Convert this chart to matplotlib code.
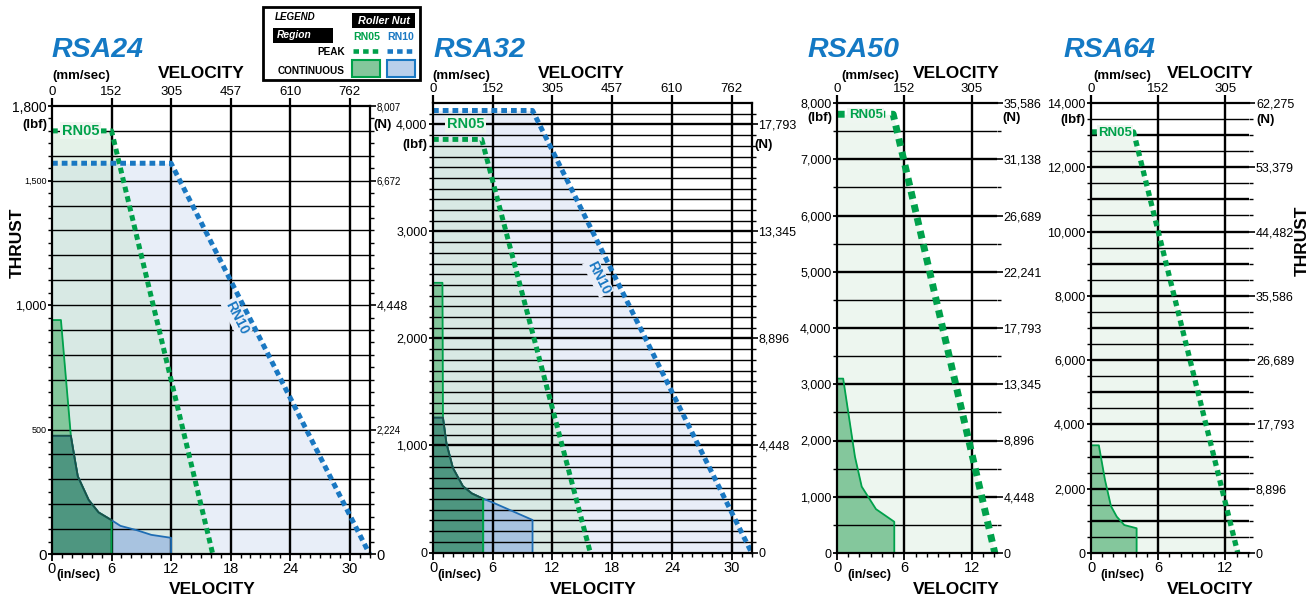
import matplotlib
matplotlib.use("Agg")
import matplotlib.pyplot as plt
import numpy as np
from matplotlib import font_manager
from matplotlib.lines import Line2D
from matplotlib.patches import Rectangle

W, H = 1316, 601

# ---------------- data (velocity in in/sec, thrust in lbf) ----------------
# RSA24
rsa24_rn05_peak_v = [0, 6.0, 16.2]
rsa24_rn05_peak_f = [1700, 1700, 0]
rsa24_rn10_peak_v = [0, 12.0, 32.0]
rsa24_rn10_peak_f = [1570, 1570, 0]
rsa24_rn05_cont_v = [0, 0.9, 1.9, 2.3, 2.6, 3.7, 4.7, 6.0, 6.0]
rsa24_rn05_cont_f = [940, 940, 475, 380, 312, 217, 167, 136, 0]
rsa24_rn10_cont_v = [0, 1.9, 2.3, 2.6, 3.7, 4.7, 6.0, 6.9, 8.6, 10.0, 12.0, 12.0]
rsa24_rn10_cont_f = [475, 475, 380, 312, 217, 167, 136, 113, 95, 77, 65, 0]

# RSA32
rsa32_rn05_peak_v = [0, 4.9, 15.8]
rsa32_rn05_peak_f = [3860, 3860, 0]
rsa32_rn10_peak_v = [0, 10.0, 32.0]
rsa32_rn10_peak_f = [4130, 4130, 0]
rsa32_rn05_cont_v = [0, 0.95, 1.0, 1.35, 2.0, 3.0, 3.9, 5.05, 5.05]
rsa32_rn05_cont_f = [2520, 2520, 1260, 1020, 790, 620, 552, 502, 0]
rsa32_rn10_cont_v = [0, 1.0, 1.35, 2.0, 3.0, 3.9, 5.05, 6.06, 10.0, 10.0]
rsa32_rn10_cont_f = [1260, 1260, 1020, 790, 620, 552, 502, 465, 304, 0]

# RSA50
rsa50_rn05_peak_v = [0, 5.0, 14.05]
rsa50_rn05_peak_f = [7800, 7800, 0]
rsa50_rn05_cont_v = [0, 0.55, 1.6, 2.2, 3.47, 5.1, 5.1]
rsa50_rn05_cont_f = [3100, 3100, 1710, 1180, 780, 555, 0]

# RSA64
rsa64_rn05_peak_v = [0, 3.8, 13.1]
rsa64_rn05_peak_f = [13100, 13100, 0]
rsa64_rn05_cont_v = [0, 0.7, 1.25, 1.78, 2.3, 2.97, 4.07, 4.07]
rsa64_rn05_cont_f = [3350, 3350, 2270, 1460, 1130, 870, 770, 0]

# tick labels
ins_long = ["0", "6", "12", "18", "24", "30"]
mm_long = ["0", "152", "305", "457", "610", "762"]
ins_short = ["0", "6", "12"]
mm_short = ["0", "152", "305"]
rsa24_lbf = ["0", "500", "1,000", "1,500", "1,800"]
rsa24_n = ["0", "2,224", "4,448", "6,672", "8,007"]
rsa32_lbf = ["0", "1,000", "2,000", "3,000", "4,000"]
rsa32_n = ["0", "4,448", "8,896", "13,345", "17,793"]
rsa50_lbf = ["0", "1,000", "2,000", "3,000", "4,000", "5,000", "6,000", "7,000", "8,000"]
rsa50_n = ["0", "4,448", "8,896", "13,345", "17,793", "22,241", "26,689", "31,138", "35,586"]
rsa64_lbf = ["0", "2,000", "4,000", "6,000", "8,000", "10,000", "12,000", "14,000"]
rsa64_n = ["0", "8,896", "17,793", "26,689", "35,586", "44,482", "53,379", "62,275"]

# colours
GREEN = "#00a14b"
BLUE = "#1a78c2"
TITLE_BLUE = "#1479c4"
GREEN_CONT = "#84c79c"
BLUE_CONT = "#a8c3e0"
DARK_CONT = "#4e9680"
GREEN_LIGHT = "#c5e4cd"
BLUE_LIGHT = "#e8eef8"

names = {f.name for f in font_manager.fontManager.ttflist}
COND = "Liberation Sans Narrow" if "Liberation Sans Narrow" in names else "Liberation Sans"
plt.rcParams["font.family"] = [COND, "DejaVu Sans"]

fig = plt.figure(figsize=(W / 100, H / 100), dpi=100)


def px_box(l, t, r, b):
    return [l / W, 1 - b / H, (r - l) / W, (b - t) / H]


def setup(box, xmax, ymax, xmaj, xlab, mmlab, ymaj, ylab, nmaj, nlab,
          hgrid, hbold, yminor, right_spine=True, lsize=9, rsize=9):
    ax = fig.add_axes(px_box(*box))
    ax.set_xlim(0, xmax)
    ax.set_ylim(0, ymax)
    for s in ["left", "bottom", "top", "right"]:
        ax.spines[s].set_linewidth(1.6)
        ax.spines[s].set_zorder(5)
    ax.spines["right"].set_visible(right_spine)
    ax.set_xticks(xmaj)
    ax.set_xticklabels(xlab, fontsize=10.5)
    ax.set_xticks(np.arange(0, xmax + 0.01, 1), minor=True)
    ax.set_yticks(ymaj)
    ax.set_yticklabels(ylab, fontsize=lsize)
    ax.set_yticks(yminor, minor=True)
    ax.tick_params(which="major", direction="out", length=5, width=1.3, pad=1)
    ax.tick_params(which="minor", direction="out", length=3, width=1)
    ax.tick_params(axis="y", which="major", length=3)

    for y in hgrid:
        ax.axhline(y, color="black", lw=1.7 if y in hbold else 1.0, zorder=2)
    for x in xmaj[1:]:
        ax.axvline(x, color="black", lw=1.7, zorder=2)

    axt = ax.twiny()
    axt.set_xlim(0, xmax)
    axt.set_xticks(xmaj)
    axt.set_xticklabels(mmlab, fontsize=9.5)
    axt.tick_params(direction="out", length=6, width=1.6, pad=0)
    axr = ax.twinx()
    axr.set_ylim(0, ymax)
    axr.set_yticks(nmaj)
    axr.set_yticklabels(nlab, fontsize=rsize)
    axr.set_yticks(yminor, minor=True)
    axr.tick_params(which="major", direction="out", length=4, width=1.2, pad=1)
    axr.tick_params(which="minor", direction="out", length=3, width=1)
    for t in (axt, axr):
        for s in t.spines.values():
            s.set_visible(False)
    return ax, axr


def peak(ax, v, f, color, lw=3.6, pat=(1.15, 0.8)):
    ax.plot(v, f, color=color, lw=lw, linestyle=(0, pat), zorder=4, clip_on=False)


def cont(ax, v, f, color, edge):
    ax.fill_between(v, f, 0, color=color, lw=0, zorder=1)
    ax.plot(v, f, color=edge, lw=1.3, zorder=3)


def dark(ax, v05, v10, f10):
    v10 = np.asarray(v10)
    f10 = np.asarray(f10)
    m = v10 <= v05[-1]
    ax.fill_between(v10[m], f10[m], 0, color=DARK_CONT, lw=0, zorder=1.5)
    ax.plot(v10[m], f10[m], color="#1b5243", lw=1.3, zorder=3)


def rn_label(ax, x, y, s, color, size=10.5, bg="#eef6f0", rot=0):
    ax.text(x, y, s, color=color, fontsize=size, fontweight="bold", rotation=rot,
            ha="left" if rot == 0 else "center", va="center", zorder=6,
            bbox=dict(boxstyle="square,pad=0.1", fc=bg, ec="none"))


# ---------------- RSA24 ----------------
ax, axr = setup((52, 106, 369.5, 554), 32, 1800, [0, 6, 12, 18, 24, 30], ins_long, mm_long,
                [0, 500, 1000, 1500, 1800], rsa24_lbf, [0, 500, 1000, 1500, 1800], rsa24_n,
                np.arange(100, 1800, 100), [], np.arange(50, 1800, 50))
for lab, sz in zip(ax.get_yticklabels(), [11, 6.5, 9, 6.5, 10]):
    lab.set_fontsize(sz)
for lab, sz in zip(axr.get_yticklabels(), [10.5, 7, 9, 7, 7]):
    lab.set_fontsize(sz)
ax.fill_between(rsa24_rn10_peak_v, rsa24_rn10_peak_f, 0, color=BLUE_LIGHT, lw=0, zorder=0.5)
ax.fill_between(rsa24_rn05_peak_v, rsa24_rn05_peak_f, 0, color=GREEN_LIGHT, alpha=0.45, lw=0, zorder=0.6)
cont(ax, rsa24_rn05_cont_v, rsa24_rn05_cont_f, GREEN_CONT, GREEN)
cont(ax, rsa24_rn10_cont_v, rsa24_rn10_cont_f, BLUE_CONT, "#1f6db4")
dark(ax, rsa24_rn05_cont_v, rsa24_rn10_cont_v, rsa24_rn10_cont_f)
peak(ax, rsa24_rn05_peak_v, rsa24_rn05_peak_f, GREEN)
peak(ax, rsa24_rn10_peak_v, rsa24_rn10_peak_f, BLUE)
rn_label(ax, 1.0, 1700, "RN05", GREEN, 10.5)
rn_label(ax, 18.6, 950, "RN10", BLUE, 10, bg="#e8eef8", rot=-63)

# ---------------- RSA32 ----------------
ax, axr = setup((433, 103, 751.5, 552.5), 32, 4200, [0, 6, 12, 18, 24, 30], ins_long, mm_long,
                [0, 1000, 2000, 3000, 4000], rsa32_lbf, [0, 1000, 2000, 3000, 4000], rsa32_n,
                np.arange(100, 4200, 100), [1000, 2000, 3000, 4000], np.arange(100, 4200, 100))
ax.fill_between(rsa32_rn10_peak_v, rsa32_rn10_peak_f, 0, color=BLUE_LIGHT, lw=0, zorder=0.5)
ax.fill_between(rsa32_rn05_peak_v, rsa32_rn05_peak_f, 0, color=GREEN_LIGHT, alpha=0.45, lw=0, zorder=0.6)
cont(ax, rsa32_rn05_cont_v, rsa32_rn05_cont_f, GREEN_CONT, GREEN)
cont(ax, rsa32_rn10_cont_v, rsa32_rn10_cont_f, BLUE_CONT, "#1f6db4")
dark(ax, rsa32_rn05_cont_v, rsa32_rn10_cont_v, rsa32_rn10_cont_f)
ax.plot([rsa32_rn05_cont_v[-1]] * 2, [0, rsa32_rn05_cont_f[-2]], color=GREEN, lw=1.3, zorder=3)
peak(ax, rsa32_rn05_peak_v, rsa32_rn05_peak_f, GREEN)
peak(ax, rsa32_rn10_peak_v, rsa32_rn10_peak_f, BLUE)
rn_label(ax, 1.4, 4000, "RN05", GREEN, 10.5)
rn_label(ax, 16.6, 2570, "RN10", BLUE, 10, bg="#e8eef8", rot=-63)

# ---------------- RSA50 ----------------
ax, axr = setup((837, 103, 996.5, 553), 14.2, 8000, [0, 6, 12], ins_short, mm_short,
                np.arange(0, 8001, 1000), rsa50_lbf, np.arange(0, 8001, 1000), rsa50_n,
                np.arange(500, 8000, 500), list(range(1000, 8000, 1000)), np.arange(500, 8000, 1000),
                right_spine=False)
ax.fill_between(rsa50_rn05_peak_v, rsa50_rn05_peak_f, 0, color=GREEN_LIGHT, alpha=0.3, lw=0, zorder=0.6)
cont(ax, rsa50_rn05_cont_v, rsa50_rn05_cont_f, GREEN_CONT, GREEN)
peak(ax, rsa50_rn05_peak_v, rsa50_rn05_peak_f, GREEN, lw=5.0, pat=(1.1, 0.85))
rn_label(ax, 1.05, 7780, "RN05", GREEN, 9.5)

# ---------------- RSA64 ----------------
ax, axr = setup((1091, 103, 1249, 553), 14.1, 14000, [0, 6, 12], ins_short, mm_short,
                np.arange(0, 14001, 2000), rsa64_lbf, np.arange(0, 14001, 2000), rsa64_n,
                np.arange(500, 14000, 500), list(range(1000, 14000, 1000)), np.arange(500, 14000, 500),
                right_spine=False)
ax.fill_between(rsa64_rn05_peak_v, rsa64_rn05_peak_f, 0, color=GREEN_LIGHT, alpha=0.3, lw=0, zorder=0.6)
cont(ax, rsa64_rn05_cont_v, rsa64_rn05_cont_f, GREEN_CONT, GREEN)
peak(ax, rsa64_rn05_peak_v, rsa64_rn05_peak_f, GREEN, lw=3.8, pat=(1.1, 0.85))
rn_label(ax, 0.65, 13080, "RN05", GREEN, 9.5)

# ---------------- overlay texts (pixel coordinates) ----------------
ov = fig.add_axes([0, 0, 1, 1])
ov.set_xlim(0, W)
ov.set_ylim(H, 0)
ov.axis("off")

bold = dict(fontweight="bold", color="black")
for x, t in [(52, "RSA24"), (433, "RSA32"), (808, "RSA50"), (1063, "RSA64")]:
    ov.text(x, 57, t, fontsize=20.5, fontweight="bold", style="italic", color=TITLE_BLUE, va="baseline")

panels = [
    # (mm/sec) left, top VELOCITY x, (lbf) xy, (N) xy, (in/sec) left, bottom VELOCITY x
    (52, 201, (35, 125), (383, 125), 56, 212),
    (432, 581, (415, 145), (764, 145), 437, 593),
    (841, 956, (820, 118), (1012, 118), 847, 956),
    (1093, 1210, (1073, 120), (1266, 120), 1100, 1210),
]
for mm_x, vt_x, lbf_xy, n_xy, in_x, vb_x in panels:
    ov.text(mm_x, 76, "(mm/sec)", fontsize=9.5, va="center", **bold)
    ov.text(vt_x, 74, "VELOCITY", fontsize=12.5, ha="center", va="center", **bold)
    ov.text(*lbf_xy, "(lbf)", fontsize=9.5, ha="center", va="center", **bold)
    ov.text(*n_xy, "(N)", fontsize=9.5, ha="center", va="center", **bold)
    ov.text(in_x, 575, "(in/sec)", fontsize=9, va="center", **bold)
    ov.text(vb_x, 589, "VELOCITY", fontsize=12.5, ha="center", va="center", **bold)

ov.text(17, 243, "THRUST", fontsize=12.5, rotation=90, ha="center", va="center", **bold)
ov.text(1302, 241, "THRUST", fontsize=12.5, rotation=90, ha="center", va="center", **bold)

# legend box
ov.add_patch(Rectangle((263, 7), 157, 73, fill=False, lw=2, ec="black"))
ov.text(275, 17, "LEGEND", fontsize=7, fontweight="bold", style="italic", va="center")
ov.add_patch(Rectangle((352, 13), 63, 15, fc="black", ec="none"))
ov.text(383.5, 20.5, "Roller Nut", fontsize=7.8, fontweight="bold", style="italic",
        color="white", ha="center", va="center")
ov.add_patch(Rectangle((273, 28), 60, 15, fc="black", ec="none"))
ov.text(277, 35.5, "Region", fontsize=7.4, fontweight="bold", style="italic", color="white", va="center")
ov.text(366.5, 37, "RN05", fontsize=7.6, fontweight="bold", color=GREEN, ha="center", va="center")
ov.text(401, 37, "RN10", fontsize=7.6, fontweight="bold", color=BLUE, ha="center", va="center")
ov.text(345, 52, "PEAK", fontsize=7.2, fontweight="bold", ha="right", va="center")
ov.add_line(Line2D([353, 378], [51, 51], color=GREEN, lw=3.3, linestyle=(0, (1.2, 0.9))))
ov.add_line(Line2D([387, 412], [51, 51], color=BLUE, lw=3.3, linestyle=(0, (1.2, 0.9))))
ov.text(345, 71, "CONTINUOUS", fontsize=7.2, fontweight="bold", ha="right", va="center")
ov.add_patch(Rectangle((352, 60), 28, 16.5, fc=GREEN_CONT, ec=GREEN, lw=1.5))
ov.add_patch(Rectangle((387, 60), 28, 16.5, fc="#b9cfeb", ec=BLUE, lw=1.5))

fig.savefig("out.png", dpi=100)
